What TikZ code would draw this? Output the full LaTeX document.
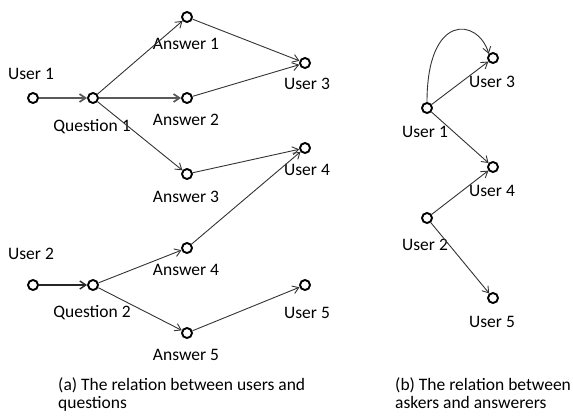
\documentclass[tikz,border=0pt]{standalone}
\usepackage{fontspec}
\setmainfont{Carlito}
\usetikzlibrary{arrows.meta}
\begin{document}
\begin{tikzpicture}[x=1pt,y=-1pt,>={Straight Barb[length=6pt,width=8pt]},
		vertex/.style={circle,draw=black,line width=1.9pt,inner sep=0pt,minimum size=10pt},
		lbl/.style={font=\fontsize{17.5}{18}\selectfont,inner sep=0pt,text=black},
		link/.style={->,draw=black!80,line width=0.9pt},
		thick link/.style={->,draw=black!65,line width=1.7pt},
		caption/.style={font=\fontsize{17.5}{17.5}\selectfont,inner sep=0pt,align=left,anchor=north west}]
		\useasboundingbox (0,0) rectangle (573,416);
		% (a) users and questions
		\node[vertex] (u1)  at (33,98)   {};
		\node[vertex] (q1)  at (93,98)   {};
		\node[vertex] (a1)  at (187,17)  {};
		\node[vertex] (a2)  at (187,98)  {};
		\node[vertex] (a3)  at (187,174) {};
		\node[vertex] (u3)  at (305,63)  {};
		\node[vertex] (u4)  at (305,148) {};
		\node[vertex] (u2)  at (33,285)  {};
		\node[vertex] (q2)  at (93,285)  {};
		\node[vertex] (a4)  at (187,248) {};
		\node[vertex] (a5)  at (187,333) {};
		\node[vertex] (u5)  at (305,285) {};
		
		\node[lbl] (u1l) at (31,74)   {User 1};
		\node[lbl] (q1l) at (92,127)  {Question 1};
		\node[lbl] (a1l) at (186,44)  {Answer 1};
		\node[lbl] (a2l) at (186,120) {Answer 2};
		\node[lbl] (a3l) at (186,197) {Answer 3};
		\node[lbl] (u3l) at (307,84)  {User 3};
		\node[lbl] (u4l) at (307,170) {User 4};
		\node[lbl] (u2l) at (31,254)  {User 2};
		\node[lbl] (q2l) at (92,313)  {Question 2};
		\node[lbl] (a4l) at (186,270) {Answer 4};
		\node[lbl] (a5l) at (186,355) {Answer 5};
		\node[lbl] (u5l) at (307,313) {User 5};
		
		\path[thick link] (u1) edge (q1) (q1) edge (a2);
		\path[link]
		(q1) edge (a1) (q1) edge (a3)
		(a1) edge (u3) (a2) edge (u3)
		(a3) edge (u4) (a4) edge (u4)
		(q2) edge (a4) (q2) edge (a5)
		(a5) edge (u5);
		\path[link,line width=1.4pt,draw=black!85] (u2) edge (q2);
		
		\node[caption] (capa) at (58,377) {(a) The relation between users and\\[0.5pt]questions};
		
		% (b) askers and answerers
		\node[vertex] (r1) at (427,108) {};
		\node[vertex] (r3) at (493,58)  {};
		\node[vertex] (r4) at (493,167) {};
		\node[vertex] (r2) at (427,218) {};
		\node[vertex] (r5) at (493,298) {};
		
		\node[lbl] (r1l) at (425,132) {User 1};
		\node[lbl] (r3l) at (492,82)  {User 3};
		\node[lbl] (r4l) at (492,191) {User 4};
		\node[lbl] (r2l) at (425,245) {User 2};
		\node[lbl] (r5l) at (492,322) {User 5};
		
		\path[link]
		(r1) edge (r3) (r1) edge (r4)
		(r2) edge (r4) (r2) edge (r5);
		\draw[link] (r1.north) .. controls (427,12) and (478,18) .. (r3.north west);
		
		\node[caption] (capb) at (395,377) {(b) The relation between\\[0.5pt]askers and answerers};
\end{tikzpicture}
\end{document}
